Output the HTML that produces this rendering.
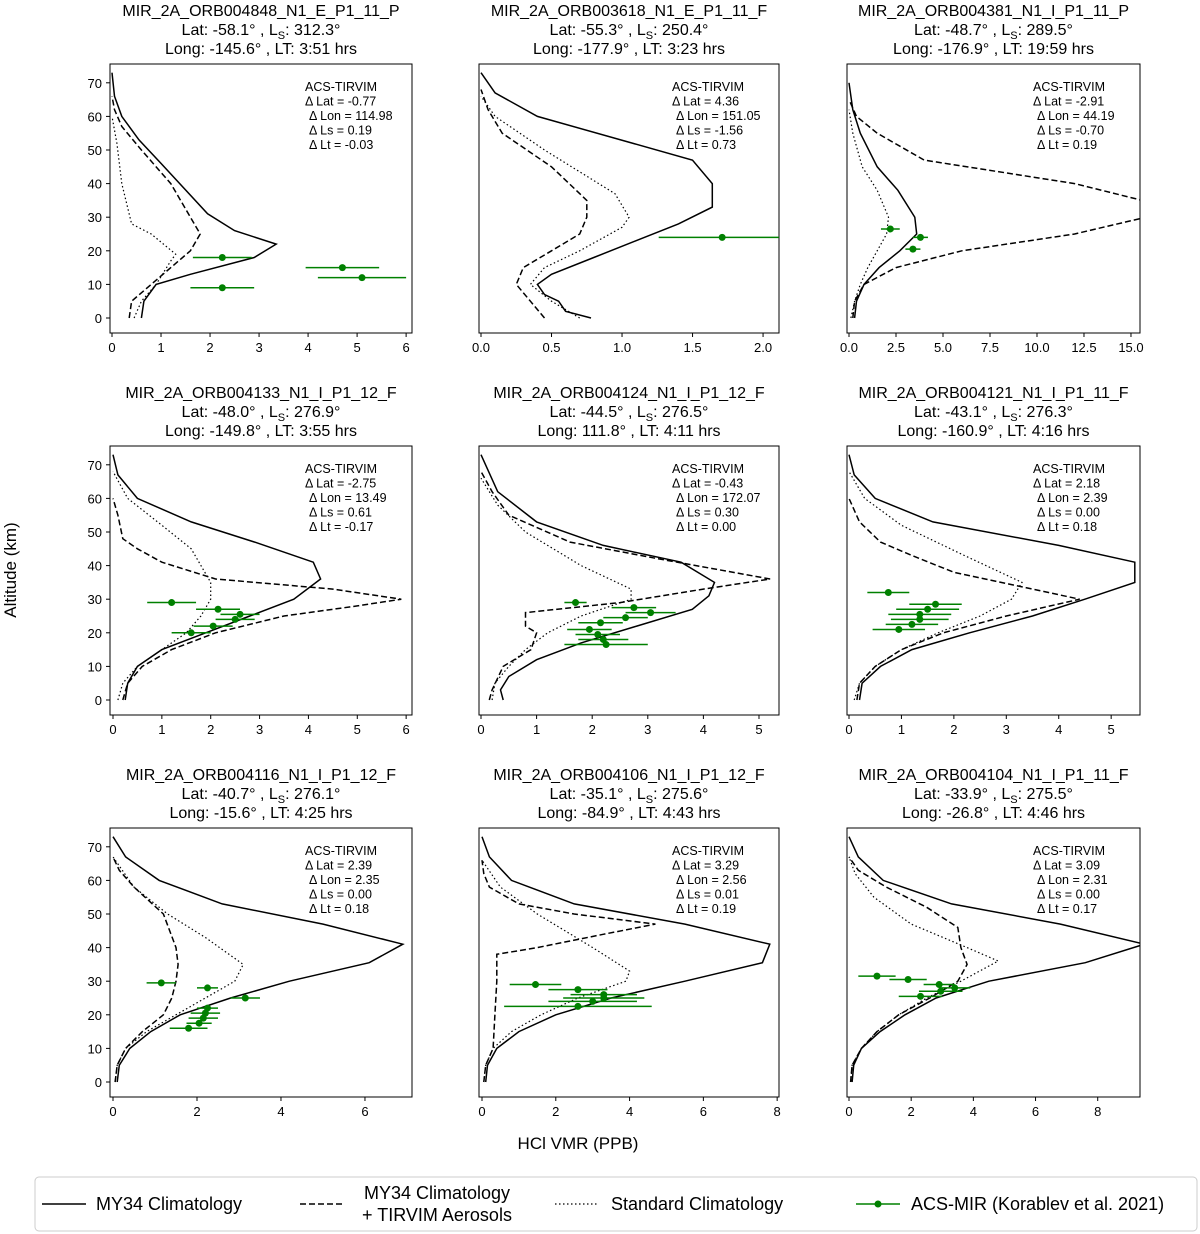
<!DOCTYPE html>
<html><head><meta charset="utf-8"><style>
body{margin:0;background:#fff;}
svg{display:block;font-family:"Liberation Sans","DejaVu Sans",sans-serif;}
</style></head><body>
<svg id="chart" width="1200" height="1234" xmlns="http://www.w3.org/2000/svg"></svg>
<script>
const titles=["MIR_2A_ORB004848_N1_E_P1_11_P","MIR_2A_ORB003618_N1_E_P1_11_F","MIR_2A_ORB004381_N1_I_P1_11_P","MIR_2A_ORB004133_N1_I_P1_12_F","MIR_2A_ORB004124_N1_I_P1_12_F","MIR_2A_ORB004121_N1_I_P1_11_F","MIR_2A_ORB004116_N1_I_P1_12_F","MIR_2A_ORB004106_N1_I_P1_12_F","MIR_2A_ORB004104_N1_I_P1_11_F"];
const lats=["-58.1","-55.3","-48.7","-48.0","-44.5","-43.1","-40.7","-35.1","-33.9"];
const lss=["312.3","250.4","289.5","276.9","276.5","276.3","276.1","275.6","275.5"];
const longs=["-145.6","-177.9","-176.9","-149.8","111.8","-160.9","-15.6","-84.9","-26.8"];
const lts=["3:51","3:23","19:59","3:55","4:11","4:16","4:25","4:43","4:46"];
const dLat=["-0.77","4.36","-2.91","-2.75","-0.43","2.18","2.39","3.29","3.09"];
const dLon=["114.98","151.05","44.19","13.49","172.07","2.39","2.35","2.56","2.31"];
const dLs=["0.19","-1.56","-0.70","0.61","0.30","0.00","0.00","0.01","0.00"];
const dLt=["-0.03","0.73","0.19","-0.17","0.00","0.18","0.18","0.19","0.17"];
const xMax=[6.12,2.113,15.48,6.12,5.36,5.55,7.12,8.05,9.36];
const xTicks=[[0,1,2,3,4,5,6],[0,0.5,1,1.5,2],[0,2.5,5,7.5,10,12.5,15],[0,1,2,3,4,5,6],[0,1,2,3,4,5],[0,1,2,3,4,5],[0,2,4,6],[0,2,4,6,8],[0,2,4,6,8]];
const xTickLabels=[["0","1","2","3","4","5","6"],["0.0","0.5","1.0","1.5","2.0"],["0.0","2.5","5.0","7.5","10.0","12.5","15.0"],["0","1","2","3","4","5","6"],["0","1","2","3","4","5"],["0","1","2","3","4","5"],["0","2","4","6"],["0","2","4","6","8"],["0","2","4","6","8"]];
const yTicks=[0,10,20,30,40,50,60,70];
const solidCurves=[
[[0.6,0],[0.65,5],[0.9,10],[1.6,13],[2.9,18],[3.35,22],[2.5,26],[1.95,31],[1.0,46],[0.55,53],[0.2,60],[0.05,66],[0,73]],
[[0.78,0],[0.6,2],[0.55,5],[0.45,7],[0.4,10],[0.5,13],[0.8,18],[1.1,23],[1.4,28],[1.64,33],[1.64,40],[1.5,47],[0.4,60],[0.1,67],[0,73]],
[[0.3,0],[0.4,5],[0.8,10],[1.6,15],[2.7,20],[3.6,25],[3.5,30],[2.6,38],[1.5,45],[0.6,55],[0.2,62],[0,70]],
[[0.25,0],[0.3,5],[0.5,10],[1.0,15],[1.9,20],[2.8,25],[3.7,30],[4.25,36],[4.1,41],[2.9,47],[1.6,53],[0.5,60],[0.1,67],[0,73]],
[[0.4,0],[0.35,3],[0.5,7],[1.0,12],[1.8,17],[2.8,22],[3.8,27],[4.1,31],[4.2,35],[3.6,41],[2.2,46],[1.0,53],[0.3,62],[0,73]],
[[0.2,0],[0.25,5],[0.6,10],[1.2,15],[2.3,20],[3.5,25],[4.5,30],[5.45,35],[5.45,41],[4.0,46],[1.6,53],[0.5,60],[0.1,67],[0,73]],
[[0.1,0],[0.15,5],[0.4,10],[0.9,15],[1.6,20],[2.8,25],[4.2,30],[6.1,35.5],[6.9,41],[5.0,47],[2.6,53],[1.1,60],[0.3,67],[0,73]],
[[0.1,0],[0.15,5],[0.4,10],[1.0,15],[2.0,20],[3.5,25],[5.5,30],[7.6,35.5],[7.8,41],[5.5,47],[2.5,53],[0.8,60],[0.2,67],[0,73]],
[[0.1,0],[0.15,5],[0.4,10],[1.0,15],[1.8,20],[2.8,25],[4.5,30],[7.6,35.5],[9.5,41],[6.8,47],[3.3,53],[1.1,60],[0.3,67],[0,73]]];
const dashedCurves=[
[[0.35,0],[0.4,5],[0.8,10],[1.2,15],[1.6,20],[1.8,25],[1.6,30],[1.2,40],[0.6,50],[0.2,57],[0.05,62],[0,66]],
[[0.45,0],[0.35,5],[0.25,10],[0.3,15],[0.5,20],[0.7,25],[0.75,30],[0.75,35],[0.5,45],[0.15,55],[0.05,62],[0,68]],
[[0.2,0],[0.3,5],[0.8,10],[2.5,15],[6,20],[12,25],[15.8,30],[15.6,35],[12,40],[4.0,47],[1.5,55],[0.4,60],[0,65]],
[[0.2,0],[0.3,5],[0.6,10],[1.2,15],[2.1,20],[3.5,25],[5.0,28],[5.9,30],[4.5,33],[2.1,36],[1.0,41],[0.5,45],[0.2,48],[0.1,55],[0,60]],
[[0.15,0],[0.2,3],[0.4,10],[0.9,15],[1.0,20],[0.8,22],[0.8,26],[2.5,29],[4.0,33],[5.2,36],[3.2,42],[1.6,47],[0.5,55],[0.2,62],[0,68]],
[[0.15,0],[0.2,5],[0.5,10],[1.0,15],[1.8,20],[3.0,25],[4.4,30],[3.5,33],[2.0,38],[1.2,43],[0.6,47],[0.2,53],[0,60]],
[[0.05,0],[0.1,5],[0.3,10],[0.7,15],[1.2,20],[1.4,25],[1.5,30],[1.55,35],[1.5,40],[1.2,50],[0.5,58],[0.15,63],[0,67]],
[[0.05,0],[0.1,5],[0.3,10],[0.35,20],[0.4,30],[0.4,38],[1.5,40],[3.3,44],[4.7,47],[2.5,50],[1.0,53],[0.2,58],[0.05,62],[0,66]],
[[0.05,0],[0.1,5],[0.4,10],[0.9,15],[1.6,20],[2.6,25],[3.5,30],[3.8,35],[3.6,40],[3.5,46],[2.5,52],[1.2,58],[0.3,63],[0,67]]];
const dottedCurves=[
[[0.45,0],[0.6,5],[0.9,10],[1.2,17],[1.3,19],[0.8,25],[0.4,28],[0.2,40],[0.1,52],[0,60]],
[[0.7,0],[0.5,5],[0.35,10],[0.45,15],[0.7,20],[1.0,27],[1.05,30],[0.95,37],[0.45,50],[0.1,60],[0,66]],
[[0.1,0],[0.3,5],[0.6,10],[1.0,15],[1.5,20],[2.0,25],[2.1,30],[1.5,38],[0.7,45],[0.2,55],[0,62]],
[[0.1,0],[0.2,5],[0.5,10],[1.0,15],[1.5,20],[1.8,25],[2.0,30],[2.0,35],[1.6,45],[1.0,52],[0.3,60],[0,68]],
[[0.2,0],[0.25,5],[0.5,10],[0.8,15],[1.2,20],[1.8,25],[2.7,30],[2.7,33],[1.8,40],[0.8,50],[0.3,58],[0,66]],
[[0.1,0],[0.2,5],[0.5,10],[1.0,15],[1.7,20],[2.5,25],[3.1,30],[3.3,35],[2.2,43],[1.0,52],[0.3,60],[0,68]],
[[0.05,0],[0.1,5],[0.3,10],[0.8,15],[1.5,20],[2.2,25],[2.9,30],[3.1,35],[2.2,43],[1.3,50],[0.5,58],[0,67]],
[[0.05,0],[0.1,5],[0.3,10],[0.8,15],[1.6,20],[2.6,25],[3.9,30],[4.0,33],[3.0,40],[1.5,50],[0.5,58],[0,66]],
[[0.05,0],[0.1,5],[0.4,10],[0.9,15],[1.6,20],[2.5,25],[3.6,30],[4.8,36],[3.8,40],[2.0,47],[0.8,55],[0.2,62],[0,67]]];
const obsPoints=[
[[2.25,18,0.6],[2.25,9,0.65],[4.7,15,0.75],[5.1,12,0.9]],
[[1.71,24,0.45]],
[[2.2,26.5,0.5],[3.8,24,0.4],[3.4,20.5,0.4]],
[[1.2,29,0.5],[2.15,27,0.45],[2.6,25.5,0.4],[2.5,24,0.4],[2.05,22,0.4],[1.6,20,0.4]],
[[1.7,29,0.2],[2.75,27.5,0.4],[3.05,26,0.45],[2.6,24.5,0.4],[2.15,23,0.4],[1.95,21,0.4],[2.1,19.5,0.4],[2.2,18,0.45],[2.25,16.5,0.75]],
[[0.75,32,0.4],[1.65,28.5,0.5],[1.5,27,0.6],[1.35,25.5,0.6],[1.35,24,0.55],[1.2,22.5,0.5],[0.95,21,0.5]],
[[1.15,29.5,0.35],[2.25,28,0.25],[3.15,25,0.35],[2.25,22,0.25],[2.2,20.5,0.35],[2.15,19,0.35],[2.05,17.5,0.3],[1.8,16,0.45]],
[[1.45,29,0.7],[2.6,27.5,0.8],[3.3,26,0.9],[3.3,25,1.1],[3.0,24,1.2],[2.6,22.5,2.0]],
[[0.9,31.5,0.6],[1.9,30.5,0.6],[2.9,29,0.5],[3.4,28,0.5],[2.95,27,0.7],[2.3,25.5,0.7]]];

const NS="http://www.w3.org/2000/svg";
const svg=document.getElementById('chart');
function mk(tag,attrs,parent,text){const e=document.createElementNS(NS,tag);for(const k in attrs)e.setAttribute(k,attrs[k]);if(text!==undefined)e.textContent=text;(parent||svg).appendChild(e);return e;}
const defs=mk('defs',{},svg);
const colL=[110,479,847], colW=[302,300,293], rowT=[64,446,828], boxH=269;
const zeroOff=[2,2,2, 3,2,2, 3,3,2];
for(let i=0;i<9;i++){
  const c=i%3,r=Math.floor(i/3);
  const L=colL[c],W=colW[c],T=rowT[r],B=T+boxH;
  const x0=L+zeroOff[i];
  const sx=v=>x0+v*(L+W-x0)/xMax[i];
  const sy=a=>T+254-a*3.36;
  const cp=mk('clipPath',{id:'clip'+i},defs);
  mk('rect',{x:L,y:T,width:W,height:boxH},cp);
  const g=mk('g',{},svg);
  
  
  const cx=L+W/2;
  const t1=mk('text',{x:cx,y:T-48,'text-anchor':'middle','font-size':16},g,titles[i]);
  
  
  const t2=mk('text',{x:cx,y:T-29,'text-anchor':'middle','font-size':16},g);
  
  
  mk('tspan',{},t2,'Lat: '+lats[i]+'° , L');
  mk('tspan',{'font-size':11,dy:4},t2,'S');
  mk('tspan',{dy:-4},t2,': '+lss[i]+'°');
  const t3=mk('text',{x:cx,y:T-10,'text-anchor':'middle','font-size':16},g,'Long: '+longs[i]+'° , LT: '+lts[i]+' hrs');
  
  
  const box=mk('rect',{x:L,y:T,width:W,height:boxH,fill:'none',stroke:'#000','stroke-width':1},g);
  
  
  xTicks[i].forEach((v,k)=>{
    mk('line',{x1:sx(v),x2:sx(v),y1:B,y2:B+4,stroke:'#000'},g);
    const tl=mk('text',{x:sx(v),y:B+19,'text-anchor':'middle','font-size':13},g,xTickLabels[i][k]);
    
    
  });
  if(c===0){yTicks.forEach(v=>{
    mk('line',{x1:L-4,x2:L,y1:sy(v),y2:sy(v),stroke:'#000'},g);
    const tl=mk('text',{x:L-8,y:sy(v)+5,'text-anchor':'end','font-size':13},g,String(v));
    
    
  });}
  const pg=mk('g',{'clip-path':'url(#clip'+i+')'},g);
  const pathOf=pts=>pts.map((p,k)=>(k?'L':'M')+sx(p[0]).toFixed(1)+','+sy(p[1]).toFixed(1)).join(' ');
  const s=mk('path',{d:pathOf(solidCurves[i]),fill:'none',stroke:'#000','stroke-width':1.5},pg);
  
  
  const d=mk('path',{d:pathOf(dashedCurves[i]),fill:'none',stroke:'#000','stroke-width':1.5,'stroke-dasharray':'6,3'},pg);
  
  
  const dt=mk('path',{d:pathOf(dottedCurves[i]),fill:'none',stroke:'#000','stroke-width':1.2,'stroke-dasharray':'1.5,2.5'},pg);
  
  
  obsPoints[i].forEach(p=>{
    const eb=mk('line',{x1:sx(p[0]-p[2]),x2:sx(p[0]+p[2]),y1:sy(p[1]),y2:sy(p[1]),stroke:'green','stroke-width':1.5},pg);
    
    
    const pt=mk('circle',{cx:sx(p[0]),cy:sy(p[1]),r:3.5,fill:'green'},pg);
    
    
  });
  const ax=L+W-107, ay=T+27;
  const ann=['ACS-TIRVIM','Δ Lat = '+dLat[i],'Δ Lon = '+dLon[i],'Δ Ls = '+dLs[i],'Δ Lt = '+dLt[i]];
  ann.forEach((s2,k)=>{
    const a=mk('text',{x:ax+(k>=2?4:0),y:ay+k*14.5,'font-size':12.5},g,s2);
    
    
  });
}
const yl=mk('text',{x:16,y:570,'text-anchor':'middle','font-size':17,transform:'rotate(-90 16 570)'},svg,'Altitude (km)');


const xl=mk('text',{x:578,y:1149,'text-anchor':'middle','font-size':17},svg,'HCl VMR (PPB)');


const lg=mk('g',{},svg);


mk('rect',{x:35,y:1177,width:1162,height:54,rx:4,fill:'#fff',stroke:'#ccc'},lg);
mk('line',{x1:42,x2:86,y1:1204,y2:1204,stroke:'#000','stroke-width':1.5},lg);
mk('text',{x:96,y:1210,'font-size':18},lg,'MY34 Climatology');
mk('line',{x1:300,x2:344,y1:1204,y2:1204,stroke:'#000','stroke-width':1.5,'stroke-dasharray':'6,3'},lg);
mk('text',{x:437,y:1199,'font-size':18,'text-anchor':'middle'},lg,'MY34 Climatology');
mk('text',{x:437,y:1221,'font-size':18,'text-anchor':'middle'},lg,'+ TIRVIM Aerosols');
mk('line',{x1:555,x2:599,y1:1204,y2:1204,stroke:'#000','stroke-width':1.2,'stroke-dasharray':'1.5,2.5'},lg);
mk('text',{x:611,y:1210,'font-size':18},lg,'Standard Climatology');
mk('line',{x1:856,x2:900,y1:1204,y2:1204,stroke:'green','stroke-width':1.5},lg);
mk('circle',{cx:878,cy:1204,r:3.5,fill:'green'},lg);
mk('text',{x:911,y:1210,'font-size':18},lg,'ACS-MIR (Korablev et al. 2021)');
</script>
</body></html>
